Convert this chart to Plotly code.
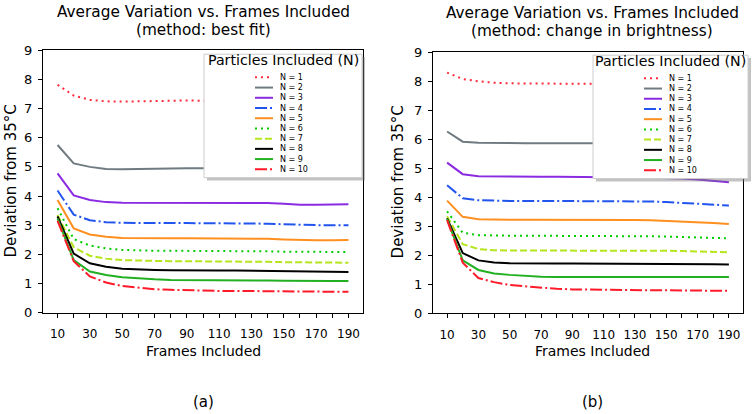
import plotly.graph_objects as go

frames = list(range(10, 200, 10))
series_names = ["N = 1", "N = 2", "N = 3", "N = 4", "N = 5", "N = 6", "N = 7", "N = 8", "N = 9", "N = 10"]

best_fit = {
    "N = 1": [7.82, 7.45, 7.30, 7.25, 7.24, 7.25, 7.26, 7.28, 7.28, 7.27, 7.26, 7.26, 7.25, 7.25, 7.25, 7.24, 7.24, 7.24, 7.24],
    "N = 2": [5.75, 5.12, 5.00, 4.93, 4.92, 4.93, 4.95, 4.95, 4.95, 4.95, 4.95, 4.95, 4.95, 4.95, 4.95, 4.95, 4.95, 4.95, 4.95],
    "N = 3": [4.78, 4.02, 3.86, 3.79, 3.77, 3.77, 3.78, 3.78, 3.78, 3.78, 3.78, 3.78, 3.77, 3.76, 3.73, 3.70, 3.70, 3.70, 3.72],
    "N = 4": [4.19, 3.36, 3.17, 3.10, 3.08, 3.07, 3.07, 3.07, 3.07, 3.07, 3.07, 3.06, 3.06, 3.05, 3.03, 3.01, 3.00, 3.00, 3.00],
    "N = 5": [3.86, 2.89, 2.68, 2.60, 2.56, 2.55, 2.55, 2.55, 2.55, 2.55, 2.55, 2.55, 2.54, 2.53, 2.51, 2.49, 2.48, 2.48, 2.49],
    "N = 6": [3.58, 2.52, 2.30, 2.20, 2.15, 2.13, 2.12, 2.12, 2.12, 2.12, 2.12, 2.11, 2.11, 2.10, 2.09, 2.08, 2.08, 2.08, 2.08],
    "N = 7": [3.35, 2.24, 1.95, 1.85, 1.80, 1.78, 1.77, 1.76, 1.76, 1.76, 1.76, 1.75, 1.75, 1.74, 1.73, 1.72, 1.71, 1.71, 1.71],
    "N = 8": [3.30, 2.02, 1.69, 1.57, 1.50, 1.47, 1.46, 1.45, 1.44, 1.44, 1.44, 1.44, 1.43, 1.42, 1.41, 1.40, 1.39, 1.39, 1.39],
    "N = 9": [3.22, 1.80, 1.41, 1.29, 1.21, 1.17, 1.14, 1.12, 1.12, 1.11, 1.11, 1.11, 1.10, 1.10, 1.09, 1.08, 1.08, 1.08, 1.08],
    "N = 10": [3.15, 1.76, 1.24, 1.03, 0.91, 0.85, 0.80, 0.78, 0.76, 0.75, 0.74, 0.74, 0.74, 0.73, 0.73, 0.72, 0.72, 0.71, 0.71],
}

brightness = {
    "N = 1": [8.30, 8.08, 8.00, 7.95, 7.93, 7.92, 7.92, 7.92, 7.92, 7.92, 7.92, 7.92, 7.92, 7.92, 7.92, 7.92, 7.92, 7.92, 7.92],
    "N = 2": [6.27, 5.92, 5.88, 5.87, 5.87, 5.87, 5.87, 5.87, 5.87, 5.87, 5.87, 5.87, 5.87, 5.87, 5.87, 5.87, 5.87, 5.87, 5.87],
    "N = 3": [5.20, 4.80, 4.73, 4.72, 4.71, 4.71, 4.71, 4.71, 4.71, 4.71, 4.70, 4.70, 4.69, 4.68, 4.67, 4.65, 4.62, 4.58, 4.52],
    "N = 4": [4.42, 3.97, 3.90, 3.88, 3.88, 3.88, 3.88, 3.88, 3.88, 3.88, 3.88, 3.88, 3.87, 3.86, 3.84, 3.81, 3.78, 3.75, 3.72],
    "N = 5": [3.89, 3.33, 3.25, 3.23, 3.23, 3.23, 3.23, 3.23, 3.23, 3.24, 3.24, 3.23, 3.22, 3.21, 3.19, 3.17, 3.15, 3.12, 3.08],
    "N = 6": [3.52, 2.78, 2.70, 2.68, 2.68, 2.68, 2.68, 2.68, 2.68, 2.68, 2.68, 2.68, 2.67, 2.66, 2.65, 2.64, 2.62, 2.61, 2.59],
    "N = 7": [3.35, 2.39, 2.22, 2.18, 2.17, 2.17, 2.18, 2.18, 2.18, 2.18, 2.18, 2.18, 2.17, 2.17, 2.16, 2.15, 2.14, 2.12, 2.11],
    "N = 8": [3.28, 2.08, 1.83, 1.76, 1.73, 1.72, 1.72, 1.72, 1.72, 1.72, 1.72, 1.72, 1.72, 1.72, 1.71, 1.71, 1.70, 1.70, 1.69],
    "N = 9": [3.25, 1.83, 1.50, 1.38, 1.33, 1.29, 1.27, 1.26, 1.26, 1.26, 1.26, 1.26, 1.26, 1.26, 1.26, 1.26, 1.26, 1.26, 1.26],
    "N = 10": [3.22, 1.75, 1.22, 1.08, 0.98, 0.93, 0.88, 0.85, 0.83, 0.82, 0.82, 0.81, 0.81, 0.80, 0.80, 0.79, 0.79, 0.78, 0.78],
}

colors = ["#ff2a3a", "#6f7b80", "#8a2be2", "#2255ee", "#ff9020", "#00cc00", "#b5e61d", "#000000", "#22b022", "#ff1a2a"]
dashes = ["2px,4px", "solid", "solid", "12px,3px,2px,3px", "solid", "2px,4px", "7px,3px", "solid", "solid", "12px,3px,2px,3px"]

x_tickvals = list(range(10, 200, 10))
x_ticktext = [str(v) if (v - 10) % 20 == 0 else "" for v in x_tickvals]
y_tickvals = list(range(0, 10))

W, H = 756, 414
FONT = "DejaVu Sans"


def px(x):
    return x / W


def py(y):
    return 1 - y / H


fig = go.Figure()

for i, name in enumerate(series_names):
    fig.add_trace(go.Scatter(x=frames, y=best_fit[name], mode="lines", name=name,
                             line=dict(color=colors[i], width=2, dash=dashes[i]),
                             xaxis="x", yaxis="y", showlegend=False))
    fig.add_trace(go.Scatter(x=frames, y=brightness[name], mode="lines", name=name,
                             line=dict(color=colors[i], width=2, dash=dashes[i]),
                             xaxis="x2", yaxis="y2", showlegend=False))

axis_common = dict(showline=True, mirror=True, linecolor="black", linewidth=1,
                   ticks="outside", ticklen=4, tickcolor="black", showgrid=False,
                   zeroline=False)
xfont = dict(family=FONT, size=12, color="black")
yfont = dict(family=FONT, size=13, color="black")

fig.update_layout(
    width=W, height=H, margin=dict(l=0, r=0, t=0, b=0),
    paper_bgcolor="white", plot_bgcolor="white", showlegend=False,
    font=dict(family=FONT, color="black"),
    xaxis=dict(domain=[px(43), px(363)], range=[1, 199], tickvals=x_tickvals, ticktext=x_ticktext,
               anchor="y", tickfont=xfont, ticklabelstandoff=6, **axis_common),
    yaxis=dict(domain=[py(317), py(45)], range=[0, 9], tickvals=y_tickvals, anchor="x",
               tickfont=yfont, ticklabelstandoff=3, **axis_common),
    xaxis2=dict(domain=[px(433), px(743)], range=[1, 199], tickvals=x_tickvals, ticktext=x_ticktext,
                anchor="y2", tickfont=xfont, ticklabelstandoff=6, **axis_common),
    yaxis2=dict(domain=[py(318), py(47)], range=[0, 9], tickvals=y_tickvals, anchor="x2",
                tickfont=yfont, ticklabelstandoff=3, **axis_common),
)

annotations = []
shapes = []


def add_text(x, y, text, size, angle=0, xanchor="center", yanchor="middle"):
    annotations.append(dict(x=px(x), y=py(y), xref="paper", yref="paper", text=text, showarrow=False,
                            font=dict(family=FONT, size=size, color="black"), textangle=angle,
                            xanchor=xanchor, yanchor=yanchor))


# titles
add_text(203, 5, "Average Variation vs. Frames Included", 15.3)
add_text(203, 24, "(method: best fit)", 15.3)
add_text(592, 6, "Average Variation vs. Frames Included", 15.3)
add_text(592, 25, "(method: change in brightness)", 15.3)
# axis titles
add_text(11, 181, "Deviation from 35°C", 15, angle=-90)
add_text(398, 182, "Deviation from 35°C", 15, angle=-90)
add_text(203, 357, "Frames Included", 14)
add_text(592, 357, "Frames Included", 14)
# panel labels
add_text(203, 410, "(a)", 15)
add_text(592, 410, "(b)", 15)


def add_legend(x0, x1, y0, y1, line_x0, line_x1, text_x, first_y, step):
    shapes.append(dict(type="rect", xref="paper", yref="paper", x0=px(x0 + 3), x1=px(x1 + 3),
                       y0=py(y1 + 3), y1=py(y0 + 3), fillcolor="rgba(120,120,120,0.45)",
                       line=dict(width=0), layer="above"))
    shapes.append(dict(type="rect", xref="paper", yref="paper", x0=px(x0), x1=px(x1),
                       y0=py(y1), y1=py(y0), fillcolor="white",
                       line=dict(color="#cccccc", width=1), layer="above"))
    add_text((x0 + x1) / 2, y0 + 6, "Particles Included (N)", 14.2)
    for i, name in enumerate(series_names):
        yy = first_y + i * step
        d = dashes[i]
        shapes.append(dict(type="line", xref="paper", yref="paper", x0=px(line_x0), x1=px(line_x1),
                           y0=py(yy), y1=py(yy), line=dict(color=colors[i], width=2, dash=d),
                           layer="above"))
        add_text(text_x, yy, name, 8, xanchor="left")


add_legend(204, 362, 49, 177, 255, 273, 278, 73, 10.6)
add_legend(593, 748, 50, 178, 644, 662, 667, 74, 10.6)

fig.update_layout(annotations=annotations, shapes=shapes)

fig.write_html("out.html")
